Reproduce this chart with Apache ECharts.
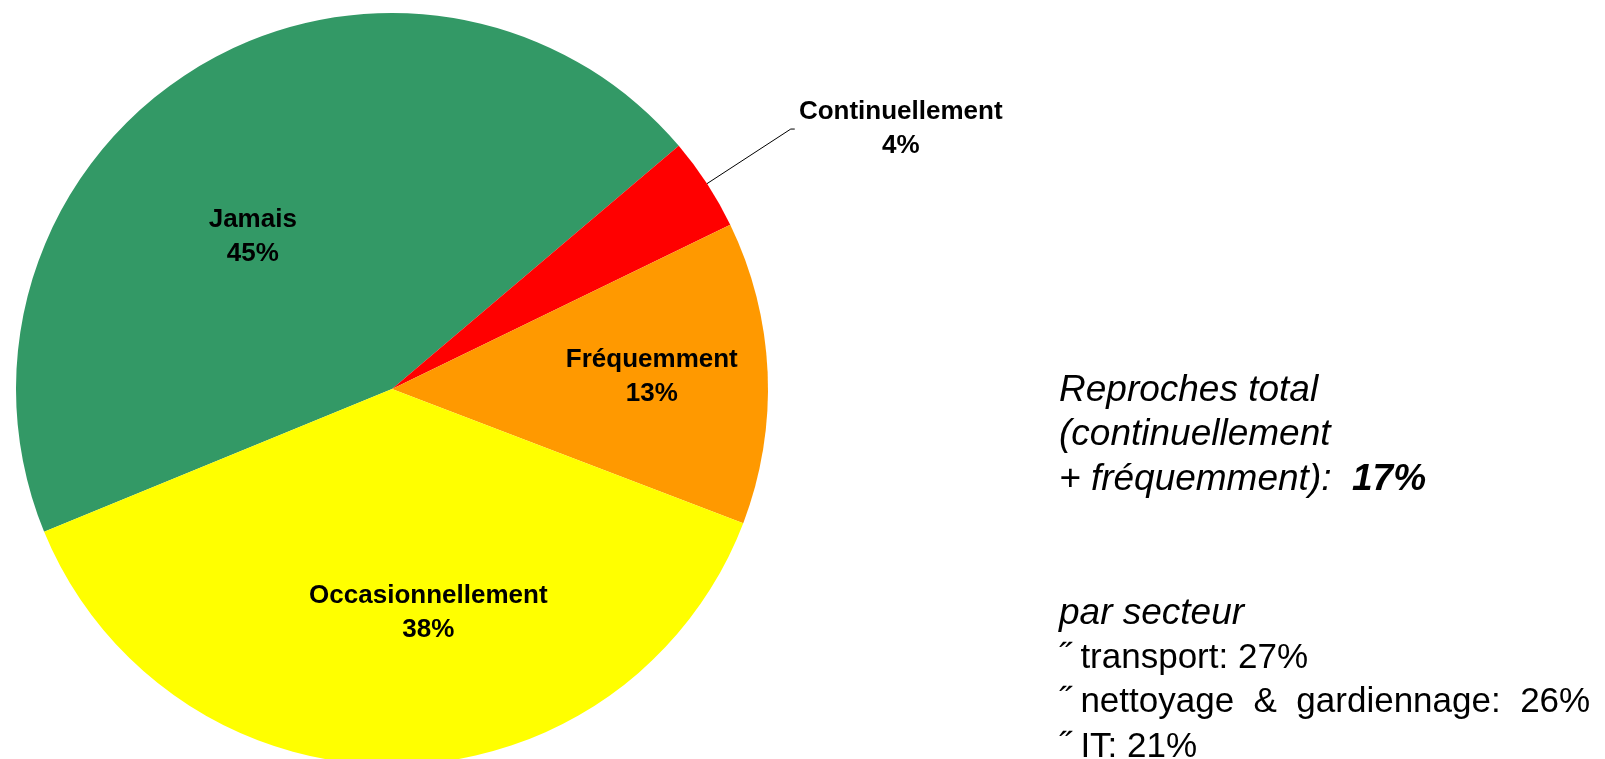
<!DOCTYPE html>
<html>
<head>
    <meta charset="UTF-8">
    <title>Reproches</title>
    <script src="https://cdn.jsdelivr.net/npm/echarts@6/dist/echarts.min.js"></script>
    <style>
      html, body { margin: 0; padding: 0; background: #fff; }
      #container { width: 1605px; height: 759px; }
    </style>
</head>
<body>
<div id="container"></div>
<script>
    // donnees du camembert
    var categories = ['Jamais', 'Continuellement', 'Fréquemment', 'Occasionnellement']
    var values = [45, 4, 13, 38]
    var colors = ['#339966', '#FF0000', '#FF9900', '#FFFF00']
    // petits decalages des etiquettes (comme dans Excel)
    var labelShift = [[-40, 11], [-5, 0], [69, -4], [34, 33]]

    // texte a droite
    var noteLines = [
        [{t: 'Reproches total', s: 'i'}],
        [{t: '(continuellement', s: 'i'}],
        [{t: '+ fréquemment):  ', s: 'i'}, {t: '17%', s: 'bi'}],
        [],
        [],
        [{t: 'par secteur', s: 'i'}],
        [{t: '˝ transport: 27%', s: 'n'}],
        [{t: '˝ nettoyage  &  gardiennage:  26%', s: 'n'}],
        [{t: '˝ IT: 21%', s: 'n'}]
    ]

    var dataArr = []
    $each = function (arr, fn) { for (var i = 0; i < arr.length; i++) fn(i, arr[i]) }
    $each(categories, function (i, name) {
        var item = {
            name: name,
            value: values[i],
            itemStyle: {color: colors[i]}
        }
        if (name === 'Continuellement') {
            item.label = {
                position: 'outside',
                formatter: '{a|{b}}\n{a|{d}%}',
                rich: {
                    a: {width: 212, align: 'center', fontSize: 26, fontWeight: 'bold',
                        lineHeight: 34, color: '#000', fontFamily: 'Liberation Sans'}
                }
            }
            item.labelLine = {show: true, length: 100, length2: 4, lineStyle: {color: '#000', width: 1}}
        }
        dataArr.push(item)
    })

    var noteText = []
    $each(noteLines, function (i, line) {
        noteText.push(line.map(function (p) { return '{' + p.s + '|' + p.t + '}' }).join(''))
    })

    var dom = document.getElementById('container')
    var myChart = echarts.init(dom, null, {renderer: 'canvas'})
    var option = {
        backgroundColor: '#FFFFFF',
        animation: false,
        series: [
            {
                type: 'pie',
                center: [392, 389],
                radius: 376,
                startAngle: 202.3,
                clockwise: true,
                data: dataArr,
                label: {
                    show: true,
                    position: 'inside',
                    formatter: '{b}\n{d}%',
                    color: '#000',
                    fontSize: 26,
                    fontWeight: 'bold',
                    lineHeight: 34,
                    fontFamily: 'Liberation Sans'
                },
                labelLayout: function (params) {
                    var s = labelShift[params.dataIndex]
                    return {dx: s[0], dy: s[1]}
                },
                emphasis: {disabled: true},
                itemStyle: {borderWidth: 0}
            }
        ],
        graphic: [
            {
                type: 'text',
                left: 1059,
                top: 368,
                style: {
                    text: noteText.join('\n'),
                    fontSize: 35,
                    lineHeight: 44.6,
                    fontFamily: 'Liberation Sans',
                    fill: '#000',
                    rich: {
                        i: {fontStyle: 'italic', fontSize: 37, lineHeight: 44.6, fontFamily: 'Liberation Sans', fill: '#000'},
                        bi: {fontStyle: 'italic', fontWeight: 'bold', fontSize: 37, lineHeight: 44.6, fontFamily: 'Liberation Sans', fill: '#000'},
                        n: {fontSize: 35, lineHeight: 44.6, fontFamily: 'Liberation Sans', fill: '#000'}
                    }
                }
            }
        ]
    }
    myChart.setOption(option, true)
</script>
</body>
</html>
